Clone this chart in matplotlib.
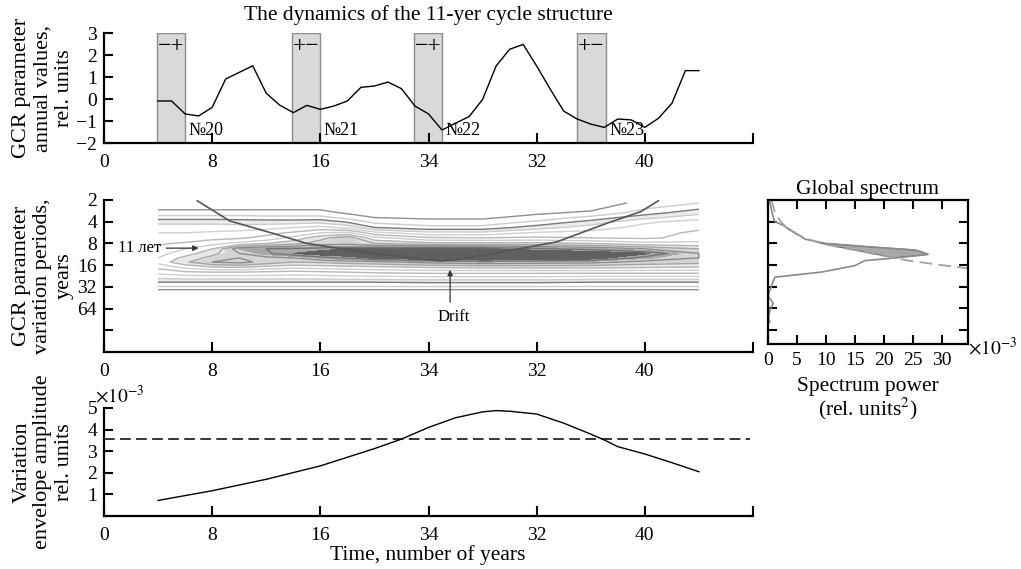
import numpy as np
import matplotlib
matplotlib.use("Agg")
import matplotlib.pyplot as plt
from matplotlib.patches import Rectangle

plt.rcParams['font.family'] = ['Liberation Serif', 'DejaVu Serif']
plt.rcParams['mathtext.fontset'] = 'stix'

W, H = 1021, 569

# ---------------- data ----------------
time_ticks = [0, 8, 16, 24, 32, 40, 48]
time_tick_labels = ['0', '8', '16', '34', '32', '40', '']

years = list(range(4, 45))
gcr_values = [-0.09, -0.09, -0.68, -0.77, -0.38, 0.91, 1.21, 1.51, 0.26, -0.28,
              -0.62, -0.29, -0.47, -0.32, -0.09, 0.53, 0.59, 0.77, 0.47, -0.32,
              -0.68, -1.41, -1.10, -0.80, -0.02, 1.50, 2.26, 2.48, 1.50, 0.45,
              -0.55, -0.91, -1.14, -1.29, -0.91, -0.95, -1.29, -0.88, -0.20, 1.29,
              1.29]

polarity_start = [3.9, 13.9, 22.9, 35.0]
polarity_end = [6.0, 16.0, 25.0, 37.1]
polarity_signs = ['\u2212+', '+\u2212', '\u2212+', '+\u2212']
cycle_names = ['\u211620', '\u211621', '\u211622', '\u211623']

wave_times = [4, 6, 8, 10, 12, 14, 16, 18, 20, 24, 28, 32, 36, 40, 44]
wave_periods = [2.2, 3.0, 3.5, 4, 4.8, 5.7, 6.7, 8, 9.5, 11, 12.7, 14.5, 17, 20, 24, 28, 33, 37]
wavelet_power = [
    [0.0, 0.0, 0.0, 0.0, 0.0, 0.0, 0.0, 0.0, 0.0, 0.0, 0.0, 0.0, 0.0, 0.6, 1.0],
    [0.6, 0.6, 0.6, 0.6, 0.6, 0.6, 0.6, 0.3, 0.2, 0.1, 0.1, 0.3, 0.5, 1.3, 2.0],
    [1.3, 1.3, 1.3, 1.3, 1.2, 1.2, 1.2, 0.8, 0.4, 0.3, 0.3, 0.6, 1.2, 2.0, 2.6],
    [2.0, 2.0, 2.0, 1.9, 1.9, 1.9, 2.0, 1.5, 0.8, 0.6, 0.6, 1.1, 1.8, 2.7, 3.0],
    [2.5, 2.5, 2.5, 2.5, 2.6, 2.8, 3.0, 2.6, 1.6, 1.2, 1.2, 1.9, 2.5, 3.0, 3.3],
    [2.8, 2.8, 2.9, 3.0, 3.2, 3.5, 4.0, 4.2, 3.0, 2.4, 2.4, 2.9, 3.0, 3.2, 3.5],
    [3.0, 3.0, 3.2, 3.3, 3.6, 4.2, 5.0, 5.6, 4.2, 3.5, 3.4, 3.5, 3.4, 3.3, 3.6],
    [3.3, 3.5, 3.8, 4.2, 4.6, 5.0, 5.5, 5.6, 5.2, 4.8, 4.8, 4.8, 4.6, 4.2, 4.2],
    [3.6, 4.0, 4.6, 6.2, 6.5, 6.6, 6.7, 6.9, 6.9, 7.0, 7.0, 6.6, 6.3, 5.8, 5.2],
    [3.8, 4.3, 5.0, 5.8, 6.4, 6.9, 7.2, 7.4, 7.6, 7.8, 7.8, 7.6, 7.4, 7.0, 5.8],
    [4.0, 4.8, 5.4, 5.8, 5.6, 5.8, 6.3, 6.6, 7.0, 7.4, 7.6, 7.5, 7.2, 6.3, 5.8],
    [4.2, 5.1, 5.8, 6.0, 5.6, 5.2, 5.3, 5.5, 5.6, 6.0, 6.2, 6.1, 6.0, 5.6, 5.4],
    [3.6, 4.2, 4.6, 4.7, 4.4, 4.2, 4.3, 4.4, 4.5, 4.7, 4.8, 4.8, 4.8, 4.7, 4.6],
    [3.0, 3.3, 3.4, 3.4, 3.3, 3.2, 3.3, 3.4, 3.5, 3.6, 3.6, 3.6, 3.6, 3.6, 3.6],
    [2.3, 2.4, 2.4, 2.4, 2.4, 2.4, 2.4, 2.5, 2.5, 2.6, 2.6, 2.6, 2.5, 2.5, 2.5],
    [1.5, 1.5, 1.5, 1.5, 1.5, 1.5, 1.5, 1.5, 1.5, 1.6, 1.6, 1.6, 1.5, 1.5, 1.5],
    [0.8, 0.8, 0.8, 0.8, 0.8, 0.8, 0.8, 0.8, 0.8, 0.8, 0.8, 0.8, 0.8, 0.8, 0.8],
    [0.0, 0.0, 0.0, 0.0, 0.0, 0.0, 0.0, 0.0, 0.0, 0.0, 0.0, 0.0, 0.0, 0.0, 0.0],
]

drift_times = [6.9, 9.3, 12.5, 15.0, 19.9, 24.9, 26.2, 29.8, 33.5, 37.2, 39.7, 41.0]
drift_periods = [2.05, 3.9, 5.8, 8.0, 11.0, 14.0, 13.3, 10.2, 7.6, 4.2, 2.9, 2.05]

period_ticks = [2, 4, 8, 16, 32, 64, 128]
period_tick_labels = ['2', '4', '8', '16', '32', '64', '']

gs_periods = [2, 2.5, 3, 3.5, 4, 4.5, 5, 6, 7, 8, 9, 9.9, 10.5, 11.4, 12, 12.9,
              13.9, 16.3, 20, 23.6, 28, 32, 38, 44, 50, 55, 65, 84, 100]
gs_power = [0.2, 0.5, 0.7, 0.9, 1.2, 2.6, 3.5, 5.1, 6.4, 9.8, 18.0, 25.3, 26.5,
            27.6, 25.0, 21.3, 16.7, 15.0, 9.3, 1.2, 0.8, 0.6, 0.2, 0.05, 0.6,
            0.9, 0.4, 0.1, 0.3]
sig_periods = [2, 3, 4, 5, 6, 7, 8, 9, 10, 11, 12, 13, 14, 15, 16, 17.8]
sig_power = [0.6, 1.2, 2.2, 3.4, 5.0, 7.0, 9.2, 12.2, 15.2, 17.8, 20.2, 22.3,
             24.5, 27.3, 29.8, 34.5]
power_ticks = [0, 5, 10, 15, 20, 25, 30]

env_years = [4, 8, 12, 16, 20, 22, 24, 26, 28, 29, 30, 32, 34, 36, 37, 38, 40, 42, 44]
env_values = [0.72, 1.17, 1.70, 2.32, 3.12, 3.56, 4.10, 4.55, 4.82, 4.88, 4.85,
              4.72, 4.30, 3.79, 3.52, 3.21, 2.87, 2.47, 2.05]
env_threshold = 3.56

# ---------------- figure ----------------
TICK_FS = 14
LABEL_FS = 15.5

fig = plt.figure(figsize=(W / 100, H / 100), dpi=100)


def axes_px(l, t, r, b):
    return fig.add_axes([l / W, 1 - b / H, (r - l) / W, (b - t) / H])


def style_time_axis(ax):
    ax.set_xlim(0, 48)
    ax.set_xticks(time_ticks)
    ax.set_xticklabels(time_tick_labels)
    ax.spines[['top', 'right']].set_visible(False)
    for s in ['left', 'bottom']:
        ax.spines[s].set_linewidth(1.6)
    ax.tick_params(axis='x', direction='in', length=7, width=1.5,
                   labelsize=TICK_FS, pad=8)
    ax.tick_params(axis='y', direction='in', length=6.5, width=1.5,
                   labelsize=TICK_FS, pad=5)
    ax.minorticks_off()


ax1 = axes_px(104, 33, 753, 143)
ax2 = axes_px(104, 200, 753, 352)
ax3 = axes_px(768, 200, 968, 344)
ax4 = axes_px(104, 408, 753, 516)

# ---- top panel ----
style_time_axis(ax1)
ax1.set_ylim(-2, 3)
ax1.set_yticks([-2, -1, 0, 1, 2, 3])
for xs, xe, sg, nm in zip(polarity_start, polarity_end, polarity_signs, cycle_names):
    ax1.add_patch(Rectangle((xs, -2), xe - xs, 5, facecolor='#d9d9d9',
                            edgecolor='#8c8c8c', lw=1.0, zorder=1))
    ax1.text((xs + xe) / 2, 2.4, sg, ha='center', va='center', fontsize=17,
             zorder=3)
    ax1.text(xe + 0.25, -1.45, nm, ha='left', va='center', fontsize=13,
             zorder=3)
ax1.plot(years, gcr_values, color='black', lw=1.0, zorder=2)

# ---- middle panel ----
style_time_axis(ax2)
ax2.set_yscale('log', base=2)
ax2.set_ylim(256, 2)
ax2.set_yticks(period_ticks)
ax2.set_yticklabels(period_tick_labels)
ax2.minorticks_off()
T, P = np.meshgrid(wave_times, wave_periods)
Z = np.array(wavelet_power)
ax2.contourf(T, P, Z, levels=[1.6, 2.2], colors=['#ececec'])
ax2.contourf(T, P, Z, levels=[4.6, 5.4, 6.2, 6.9, 99],
             colors=['#e8e8e8', '#d4d4d4', '#a8a8a8', '#606060'])
line_levels = [0.4, 1.0, 1.6, 2.2, 2.8, 3.4, 4.0, 4.6, 5.2, 5.8, 6.5]
line_colors = ['#909090', '#cccccc', '#7a7a7a', '#cccccc', '#d0d0d0', '#b8b8b8',
               '#cccccc', '#b4b4b4', '#a4a4a4', '#8c8c8c', '#747474']
ax2.contour(T, P, Z, levels=line_levels, colors=line_colors, linewidths=1.0)
ax2.plot(drift_times, drift_periods, color='#555555', lw=1.2)
ax2.annotate('', xy=(7.2, 9.3), xytext=(4.4, 9.3),
             arrowprops=dict(arrowstyle='-|>', color='#333333', lw=0.9,
                             mutation_scale=8))
ax2.text(4.2, 9.3, '11 \u043b\u0435\u0442', ha='right', va='center', fontsize=12)
ax2.annotate('', xy=(25.6, 17), xytext=(25.6, 57),
             arrowprops=dict(arrowstyle='-|>', color='#333333', lw=0.9,
                             mutation_scale=8))
ax2.text(25.85, 84, 'Drift', ha='center', va='center', fontsize=12)

# ---- right panel: global spectrum ----
ax3.set_yscale('log', base=2)
ax3.set_ylim(200, 2)
ax3.set_xlim(0, 34.5)
ax3.set_xticks(power_ticks)
ax3.set_yticks(period_ticks[1:])
ax3.set_yticklabels([])
ax3.minorticks_off()
for s in ax3.spines.values():
    s.set_linewidth(1.6)
ax3.tick_params(axis='both', direction='in', length=6.5, width=1.5,
                labelsize=TICK_FS, top=True, right=True, pad=6)
sig_on_gs = np.interp(np.log2(gs_periods), np.log2(sig_periods), sig_power,
                      right=np.nan)
gsp = np.array(gs_power)
ax3.fill_betweenx(gs_periods, gsp, sig_on_gs,
                  where=np.nan_to_num(gsp - sig_on_gs, nan=-1) > 0,
                  interpolate=True, facecolor='#a8a8a8', edgecolor='#6e6e6e',
                  lw=0.8)
ax3.plot(gs_power, gs_periods, color='#8a8a8a', lw=1.2)
ax3.plot(sig_power, sig_periods, color='#a0a0a0', lw=1.3, dashes=(7, 3.5))
ax3.set_title('Global spectrum', fontsize=LABEL_FS, pad=4)

# ---- bottom panel ----
style_time_axis(ax4)
ax4.set_ylim(0, 5)
ax4.set_yticks([1, 2, 3, 4, 5])
ax4.plot(env_years, env_values, color='black', lw=1.0)
ax4.axhline(env_threshold, xmin=0, xmax=47.8 / 48, color='black', lw=1.1,
            dashes=(7, 3.5))

# ---- texts ----
fig.text(428 / W, 1 - 15 / H, 'The dynamics of the 11-yer cycle structure',
         ha='center', va='center', fontsize=LABEL_FS)
ylabel_kw = dict(rotation=90, ha='center', va='center', multialignment='center',
                 fontsize=16, linespacing=1.15)
fig.text(43 / W, 1 - 88 / H, 'GCR parameter\nannual values,\nrel. units',
         **ylabel_kw)
fig.text(43 / W, 1 - 276 / H, 'GCR parameter\nvariation periods,\nyears',
         **ylabel_kw)
fig.text(43 / W, 1 - 462 / H, 'Variation\nenvelope amplitude\nrel. units',
         **ylabel_kw)
fig.text(95 / W, 1 - 396 / H, r'$\times10^{-3}$', ha='left', va='center',
         fontsize=14)
fig.text(968 / W, 1 - 348 / H, r'$\times10^{-3}$', ha='left', va='center',
         fontsize=14)
fig.text(428 / W, 1 - 555 / H, 'Time, number of years', ha='center',
         va='center', fontsize=LABEL_FS)
fig.text(868 / W, 1 - 387 / H, 'Spectrum power', ha='center', va='center',
         fontsize=LABEL_FS)
fig.text(868 / W, 1 - 409 / H, '(rel. units$^{2}$)', ha='center', va='center',
         fontsize=LABEL_FS)

fig.savefig('out.png', dpi=100)
